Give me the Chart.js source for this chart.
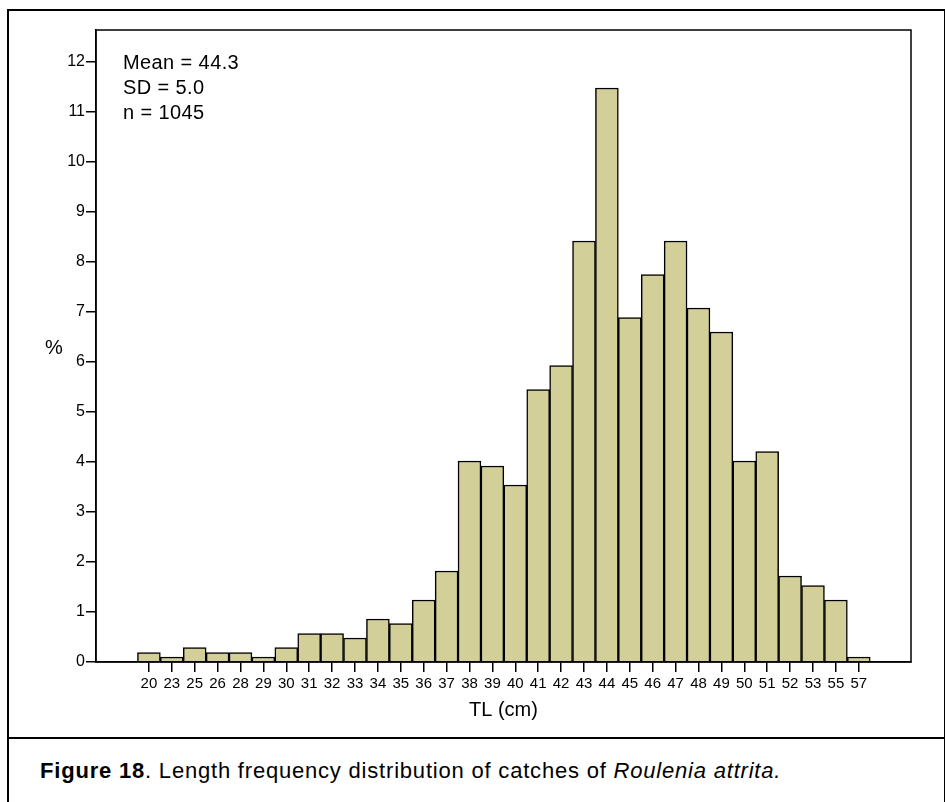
<!DOCTYPE html>
<html>
<head>
<meta charset="utf-8">
<script src="https://cdn.jsdelivr.net/npm/chart.js@4.4.1/dist/chart.umd.min.js"></script>
<style>
  html, body { margin: 0; padding: 0; background: #fff; }
  body { width: 945px; height: 802px; position: relative; overflow: hidden; font-family: "Liberation Sans", Arial, sans-serif; }
  #frame { position: absolute; left: 7px; top: 9px; width: 935px; height: 820px; border: 2px solid #000; }
  #sep { position: absolute; left: 7px; top: 737px; width: 938px; height: 2px; background: #000; }
  #wrap { position: absolute; left: 0; top: 0; width: 945px; height: 738px; }
  #caption { position: absolute; left: 40px; top: 760px; font-size: 22px; line-height: 22px; letter-spacing: 0.8px; color: #000; white-space: nowrap; }
</style>
</head>
<body>
<div id="frame"></div>
<div id="sep"></div>
<div id="wrap"><canvas id="histo"></canvas></div>
<div id="caption"><b>Figure 18</b>. Length frequency distribution of catches of <i>Roulenia attrita.</i></div>

<script>
// Clases de talla (TL, cm) y porcentaje de capturas en cada una
const tlLabels = ['20', '23', '25', '26', '28', '29', '30', '31', '32', '33', '34', '35', '36', '37', '38', '39',
                  '40', '41', '42', '43', '44', '45', '46', '47', '48', '49', '50', '51', '52', '53', '55', '57'];
const pctValues = [0.19, 0.10, 0.29, 0.19, 0.19, 0.10, 0.29, 0.57, 0.57, 0.48, 0.86, 0.77, 1.24, 1.82, 4.02, 3.92,
                   3.54, 5.45, 5.93, 8.42, 11.48, 6.89, 7.75, 8.42, 7.08, 6.60, 4.02, 4.21, 1.72, 1.53, 1.24, 0.10];
const yTicks = [0, 1, 2, 3, 4, 5, 6, 7, 8, 9, 10, 11, 12];
const statsLines = ['Mean = 44.3', 'SD = 5.0', 'n = 1045'];

const FONT = '"Liberation Sans", Arial, sans-serif';

// Marco del área de trazado, texto de estadísticos y el "%" horizontal
const extras = {
  id: 'extras',
  afterDraw(chart) {
    const { ctx, chartArea } = chart;
    ctx.save();
    ctx.strokeStyle = '#000';
    ctx.lineWidth = 1.5;
    ctx.strokeRect(chartArea.left, chartArea.top, chartArea.right - chartArea.left, chartArea.bottom - chartArea.top);

    ctx.fillStyle = '#000';
    ctx.font = '20px ' + FONT;
    ctx.letterSpacing = '0.4px';
    ctx.textAlign = 'left';
    ctx.textBaseline = 'alphabetic';
    statsLines.forEach((t, i) => ctx.fillText(t, chartArea.left + 27, 69 + i * 25));

    ctx.letterSpacing = '0px';
    ctx.textAlign = 'center';
    ctx.textBaseline = 'middle';
    ctx.fillText('%', 54, 348);
    ctx.restore();
  }
};

new Chart(document.getElementById('histo'), {
  type: 'bar',
  data: {
    datasets: [{
      data: pctValues.map((v, i) => ({ x: i, y: v })),
      backgroundColor: '#d3cf98',
      borderColor: '#000',
      borderWidth: 1.5,
      barPercentage: 1,
      categoryPercentage: 1
    }]
  },
  options: {
    responsive: true,
    maintainAspectRatio: false,
    animation: false,
    layout: { padding: { left: 0, top: 30, right: 34, bottom: 0 } },
    plugins: { legend: { display: false }, tooltip: { enabled: false } },
    scales: {
      x: {
        type: 'linear',
        offset: false,
        min: -2.31,
        max: 33.28,
        afterBuildTicks: (scale) => { scale.ticks = tlLabels.map((_, i) => ({ value: i })); },
        afterFit: (scale) => { scale.height = 76; },
        grid: { offset: false, drawOnChartArea: false, drawTicks: true, tickLength: 10, color: '#000', lineWidth: 1.5 },
        border: { display: true, color: '#000', width: 1.5 },
        ticks: {
          autoSkip: false,
          maxRotation: 0,
          padding: 3,
          color: '#000',
          font: { family: FONT, size: 15 },
          callback: (v) => tlLabels[v]
        },
        title: { display: true, text: 'TL (cm)', color: '#000', font: { family: FONT, size: 20 }, padding: { top: 0, bottom: 16 } }
      },
      y: {
        min: 0,
        max: 12.64,
        afterBuildTicks: (scale) => { scale.ticks = yTicks.map(v => ({ value: v })); },
        afterFit: (scale) => { scale.width = 96; },
        grid: { drawOnChartArea: false, drawTicks: true, tickLength: 10, color: '#000', lineWidth: 1.5 },
        border: { display: true, color: '#000', width: 1.5 },
        ticks: {
          padding: 1,
          color: '#000',
          font: { family: FONT, size: 16 }
        }
      }
    }
  },
  plugins: [extras]
});
</script>
</body>
</html>
